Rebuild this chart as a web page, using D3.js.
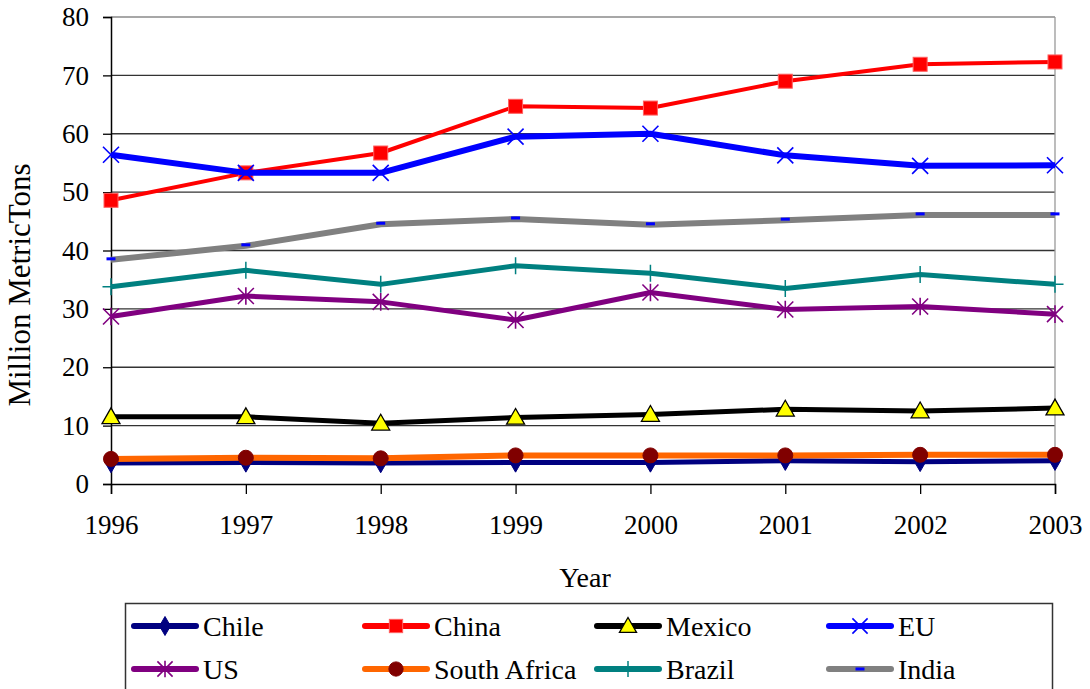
<!DOCTYPE html>
<html>
<head>
<meta charset="utf-8">
<script src="https://cdn.jsdelivr.net/npm/d3@7"></script>
<style>
  html, body { margin: 0; padding: 0; background: #fff; }
  svg { display: block; }
</style>
</head>
<body>
<svg id="chart" width="1090" height="689"></svg>
<script>
// Production by country, million metric tons
const years = [1996, 1997, 1998, 1999, 2000, 2001, 2002, 2003];
const yTicks = [0, 10, 20, 30, 40, 50, 60, 70, 80];

const chile       = [3.6, 3.7, 3.6, 3.7, 3.7, 4.0, 3.8, 4.0];
const china       = [48.6, 53.3, 56.7, 64.7, 64.4, 69.0, 71.9, 72.3];
const mexico      = [11.5, 11.5, 10.4, 11.4, 11.9, 12.8, 12.5, 13.0];
const eu          = [56.4, 53.3, 53.3, 59.5, 60.0, 56.3, 54.5, 54.6];
const us          = [28.7, 32.2, 31.2, 28.1, 32.8, 29.9, 30.4, 29.1];
const southAfrica = [4.3, 4.5, 4.4, 4.9, 4.9, 4.9, 5.0, 5.0];
const brazil      = [33.8, 36.6, 34.2, 37.4, 36.1, 33.5, 35.9, 34.2];
const india       = [38.4, 40.8, 44.5, 45.4, 44.4, 45.2, 46.1, 46.1];

const FONT = "'Liberation Serif', 'Times New Roman', Times, serif";

const series = [
  { name: "Chile",        values: chile,       line: "#000080", width: 5, marker: "diamond",  fill: "#000080", stroke: "#000080" },
  { name: "China",        values: china,       line: "#FF0000", width: 4, marker: "square",   fill: "#FF0000", stroke: "#FF0000" },
  { name: "Mexico",       values: mexico,      line: "#000000", width: 5, marker: "triangle", fill: "#FFFF00", stroke: "#000000" },
  { name: "EU",           values: eu,          line: "#0000FF", width: 6, marker: "x",        fill: "none",    stroke: "#0000FF" },
  { name: "US",           values: us,          line: "#800080", width: 5, marker: "star",     fill: "none",    stroke: "#800080" },
  { name: "South Africa", values: southAfrica, line: "#FF6600", width: 6, marker: "circle",   fill: "#800000", stroke: "#800000" },
  { name: "Brazil",       values: brazil,      line: "#008080", width: 5, marker: "plus",     fill: "none",    stroke: "#008080" },
  { name: "India",        values: india,       line: "#808080", width: 6, marker: "dash",     fill: "#0000FF", stroke: "#0000FF" }
];

const svg = d3.select("#chart").attr("font-family", FONT);
const plot = { left: 111, right: 1055, top: 17, bottom: 484 };

const x = d3.scaleLinear().domain([d3.min(years), d3.max(years)]).range([plot.left, plot.right]);
const y = d3.scaleLinear().domain([0, 80]).range([plot.bottom, plot.top]);

// Horizontal gridlines
svg.append("g")
  .selectAll("line")
  .data(yTicks.filter(t => t > 0))
  .join("line")
  .attr("x1", plot.left).attr("x2", plot.right)
  .attr("y1", d => y(d)).attr("y2", d => y(d))
  .attr("stroke", d => d === 80 ? "#8a8a8a" : "#333")
  .attr("stroke-width", 1.3);

// Right border of plot area
svg.append("line")
  .attr("x1", plot.right).attr("x2", plot.right)
  .attr("y1", plot.top).attr("y2", plot.bottom)
  .attr("stroke", "#999").attr("stroke-width", 1.3);

// Y axis
const yAxis = svg.append("g")
  .attr("transform", `translate(${plot.left},0)`)
  .call(d3.axisLeft(y).tickValues(yTicks).tickSize(8).tickPadding(14).tickFormat(d3.format("d")));

// X axis
const xAxis = svg.append("g")
  .attr("transform", `translate(0,${plot.bottom})`)
  .call(d3.axisBottom(x).tickValues(years).tickSize(10).tickPadding(21).tickFormat(d3.format("d")));

[yAxis, xAxis].forEach(a => {
  a.attr("font-family", FONT).attr("font-size", 27);
  a.selectAll("text").attr("fill", "#000");
  a.select(".domain").attr("stroke", "#000").attr("stroke-width", 1.5);
  a.selectAll(".tick line").attr("stroke", "#000").attr("stroke-width", 1.3);
});

// Axis titles
svg.append("text")
  .attr("x", 585).attr("y", 587)
  .attr("text-anchor", "middle")
  .attr("font-family", FONT)
  .attr("font-size", 28)
  .text("Year");

svg.append("text")
  .attr("transform", "translate(30,285) rotate(-90)")
  .attr("text-anchor", "middle")
  .attr("font-family", FONT)
  .attr("font-size", 31)
  .text("Million MetricTons");

// Marker shapes
function drawMarker(g, type, cx, cy, s, scale) {
  const k = scale || 1;
  if (type === "diamond") {
    g.append("path").attr("d", d3.symbol(d3.symbolDiamond, 110 * k)()).attr("transform", `translate(${cx},${cy})`)
      .attr("fill", s.fill).attr("stroke", s.stroke);
  } else if (type === "square") {
    const h = 7 * k;
    g.append("rect").attr("x", cx - h).attr("y", cy - h).attr("width", 2 * h).attr("height", 2 * h)
      .attr("fill", s.fill).attr("stroke", "#ff6060").attr("stroke-width", 1);
  } else if (type === "triangle") {
    const h = 9 * k;
    g.append("path")
      .attr("d", `M${cx},${cy - h} L${cx + h},${cy + h * 0.75} L${cx - h},${cy + h * 0.75} Z`)
      .attr("fill", s.fill).attr("stroke", s.stroke).attr("stroke-width", 1.3);
  } else if (type === "x") {
    const h = 8 * k;
    g.append("path")
      .attr("d", `M${cx - h},${cy - h} L${cx + h},${cy + h} M${cx - h},${cy + h} L${cx + h},${cy - h}`)
      .attr("stroke", s.stroke).attr("stroke-width", 1.6).attr("fill", "none");
  } else if (type === "star") {
    const h = 8 * k;
    g.append("path")
      .attr("d", `M${cx - h},${cy - h} L${cx + h},${cy + h} M${cx - h},${cy + h} L${cx + h},${cy - h} M${cx},${cy - h * 1.1} L${cx},${cy + h * 1.1}`)
      .attr("stroke", s.stroke).attr("stroke-width", 1.6).attr("fill", "none");
  } else if (type === "circle") {
    g.append("circle").attr("cx", cx).attr("cy", cy).attr("r", 7.5 * k)
      .attr("fill", s.fill).attr("stroke", s.stroke);
  } else if (type === "plus") {
    const h = 8.5 * k;
    g.append("path")
      .attr("d", `M${cx},${cy - h} L${cx},${cy + h} M${cx - h},${cy} L${cx + h},${cy}`)
      .attr("stroke", s.stroke).attr("stroke-width", 1.5).attr("fill", "none");
  } else if (type === "dash") {
    g.append("rect").attr("x", cx - 4.5).attr("y", cy - 1.5).attr("width", 9).attr("height", 3)
      .attr("fill", s.fill);
  }
}

// Series lines and markers
const line = d3.line().x((d, i) => x(years[i])).y(d => y(d));
const plotG = svg.append("g");
series.forEach(s => {
  const g = plotG.append("g");
  g.append("path")
    .attr("d", line(s.values))
    .attr("fill", "none")
    .attr("stroke", s.line)
    .attr("stroke-width", s.width)
    .attr("stroke-linejoin", "round");
  s.values.forEach((v, i) => drawMarker(g, s.marker, x(years[i]), y(v) - (s.marker === "dash" ? 1 : 0), s));
});

// Legend
const legend = svg.append("g");
legend.append("rect")
  .attr("x", 125.5).attr("y", 603.5).attr("width", 927).attr("height", 90)
  .attr("fill", "#fff").attr("stroke", "#333").attr("stroke-width", 1.5);

const colX = [134, 365, 597, 829];
const rowY = [626, 669];
series.forEach((s, i) => {
  const cx0 = colX[i % 4];
  const cy = rowY[Math.floor(i / 4)];
  const g = legend.append("g");
  g.append("line")
    .attr("x1", cx0).attr("x2", cx0 + 62)
    .attr("y1", cy).attr("y2", cy)
    .attr("stroke", s.line).attr("stroke-width", 6).attr("stroke-linecap", "round");
  drawMarker(g, s.marker, cx0 + 31, cy, s, 0.95);
  g.append("text")
    .attr("x", cx0 + 69).attr("y", cy + 10)
    .attr("font-family", FONT)
    .attr("font-size", 28)
    .attr("fill", "#000")
    .text(s.name);
});
</script>
</body>
</html>
